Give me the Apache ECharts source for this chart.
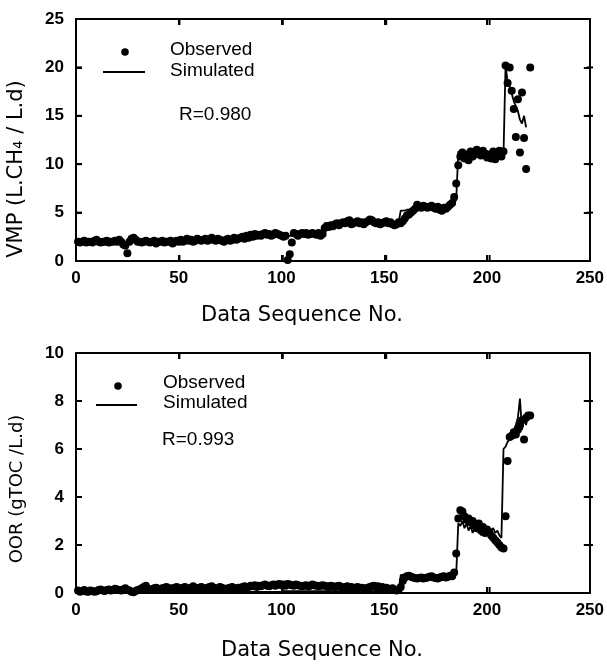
<!DOCTYPE html>
<html>
<head>
<meta charset="utf-8">
<script src="https://cdn.jsdelivr.net/npm/echarts@6/dist/echarts.min.js"></script>
<style>
html,body{margin:0;padding:0;background:#fff;}
#chart{width:607px;height:667px;}
</style>
</head>
<body>
<div id="chart"></div>
<script>
// Axis ticks
var xTicks = [0, 50, 100, 150, 200, 250];
var vmpTicks = [0, 5, 10, 15, 20, 25];
var oorTicks = [0, 2, 4, 6, 8, 10];

// Top panel: VMP, observed (sequence no. 1..221)
var vmpObserved = [
 2.0,1.9,2.0,2.1,1.9,2.0,2.0,1.9,2.1,2.2,
 2.0,1.9,2.0,2.0,2.1,1.9,2.0,2.0,2.1,2.0,
 2.2,2.0,1.7,1.6,0.8,2.0,2.3,2.4,2.2,2.0,
 2.0,1.9,2.0,2.1,2.0,1.9,2.0,2.1,1.8,2.0,
 2.0,2.1,1.9,2.0,2.0,2.1,1.8,2.0,2.1,2.0,
 2.2,2.0,2.1,2.3,2.1,2.2,2.0,2.1,2.3,2.2,
 2.1,2.2,2.3,2.1,2.2,2.4,2.2,2.1,2.3,2.2,
 2.1,2.0,2.2,2.3,2.1,2.2,2.4,2.2,2.3,2.4,
 2.5,2.3,2.6,2.4,2.7,2.5,2.8,2.6,2.7,2.6,
 2.8,2.9,2.7,2.8,2.6,2.7,2.9,2.8,2.7,2.6,
 2.5,2.6,0.1,0.7,1.9,2.9,2.8,2.6,2.8,2.9,
 2.8,2.9,2.7,2.8,2.9,2.8,2.7,2.9,2.6,2.8,
 3.4,3.6,3.5,3.7,3.6,3.8,3.9,3.7,3.9,4.0,
 3.9,4.1,4.2,3.8,3.9,4.0,4.1,3.9,4.0,3.8,
 4.0,4.1,4.3,4.2,4.0,3.9,4.0,3.8,3.9,4.0,
 4.1,3.9,4.0,3.8,3.7,3.8,4.0,3.9,4.1,4.4,
 4.7,4.8,5.0,5.2,5.4,5.8,5.6,5.5,5.7,5.6,
 5.5,5.6,5.7,5.5,5.4,5.6,5.3,5.2,5.5,5.4,
 5.6,5.8,6.0,6.6,8.0,9.9,10.8,11.2,10.6,11.0,
 10.4,11.3,10.8,11.0,11.5,11.2,10.9,11.4,11.1,10.7,
 11.0,10.6,11.3,10.5,11.0,11.4,10.8,11.3,20.2,18.4,
 20.0,17.6,15.7,12.8,16.7,11.2,17.4,12.7,9.5,null,20.0
];

// Top panel: VMP, simulated (sequence no. 1..219)
var vmpSimulated = [
 1.9,1.9,1.9,1.9,1.9,1.9,1.9,1.9,1.9,1.9,
 1.9,1.9,1.9,1.9,1.9,1.9,1.9,1.9,1.9,1.9,
 1.9,1.9,1.9,1.9,1.9,2.0,2.0,2.0,2.0,2.0,
 2.0,2.0,2.0,2.0,2.0,2.0,2.0,2.0,2.0,2.0,
 2.0,2.0,2.0,2.0,2.0,2.0,2.0,2.0,2.0,2.0,
 2.0,2.0,2.0,2.1,2.1,2.1,2.1,2.1,2.1,2.1,
 2.1,2.1,2.1,2.1,2.2,2.2,2.2,2.2,2.2,2.2,
 2.2,2.2,2.2,2.2,2.2,2.2,2.3,2.3,2.3,2.3,
 2.4,2.4,2.4,2.4,2.5,2.5,2.5,2.5,2.6,2.6,
 2.6,2.6,2.6,2.6,2.6,2.6,2.6,2.6,2.6,2.6,
 2.6,2.6,2.6,2.6,2.6,2.6,2.6,2.6,2.6,2.6,
 2.6,2.6,2.6,2.6,2.6,2.6,2.6,2.6,2.6,2.6,
 3.9,3.9,3.9,3.9,3.9,3.9,3.9,3.9,3.9,3.9,
 4.0,4.0,4.0,4.0,4.0,4.0,4.0,4.0,4.0,4.0,
 4.0,4.0,4.0,4.0,4.0,4.0,4.0,4.0,4.0,4.0,
 4.0,4.0,4.0,4.0,4.0,4.0,4.0,5.2,5.2,5.2,
 5.3,5.3,5.4,5.4,5.5,5.5,5.6,5.6,5.6,5.6,
 5.6,5.6,5.6,5.6,5.6,5.6,5.6,5.6,5.6,5.6,
 5.6,5.7,5.8,6.0,6.3,11.3,11.2,11.1,11.0,11.1,
 11.0,11.2,11.1,11.0,11.2,11.1,11.0,11.1,11.2,11.0,
 11.1,11.0,11.2,11.1,11.0,11.2,11.1,11.0,20.2,18.5,
 18.0,17.3,16.5,16.0,15.5,14.6,14.2,15.0,13.8
];

// Bottom panel: OOR, observed (sequence no. 1..221)
var oorObserved = [
 0.10,0.05,0.08,0.12,0.06,0.05,0.10,0.08,0.05,0.07,
 0.12,0.15,0.10,0.08,0.12,0.15,0.10,0.12,0.18,0.15,
 0.12,0.10,0.15,0.20,0.12,0.10,0.05,0.03,0.08,0.12,
 0.15,0.20,0.25,0.30,0.18,0.15,0.12,0.20,0.22,0.18,
 0.15,0.20,0.22,0.25,0.18,0.20,0.15,0.22,0.25,0.20,
 0.18,0.22,0.25,0.20,0.18,0.22,0.28,0.20,0.15,0.22,
 0.25,0.20,0.18,0.22,0.25,0.28,0.22,0.18,0.20,0.25,
 0.22,0.18,0.15,0.20,0.22,0.25,0.20,0.18,0.22,0.20,
 0.25,0.28,0.22,0.25,0.30,0.28,0.32,0.25,0.30,0.28,
 0.32,0.35,0.30,0.28,0.32,0.35,0.30,0.35,0.38,0.32,
 0.35,0.30,0.38,0.35,0.32,0.30,0.35,0.32,0.30,0.28,
 0.30,0.32,0.28,0.30,0.35,0.32,0.30,0.28,0.30,0.32,
 0.30,0.28,0.25,0.30,0.28,0.25,0.28,0.30,0.25,0.22,
 0.25,0.28,0.22,0.25,0.20,0.22,0.25,0.20,0.22,0.18,
 0.20,0.22,0.25,0.28,0.30,0.25,0.28,0.22,0.25,0.20,
 0.22,0.18,0.15,0.20,0.12,0.10,0.15,0.25,0.50,0.65,
 0.70,0.72,0.68,0.65,0.62,0.60,0.62,0.65,0.60,0.62,
 0.65,0.68,0.70,0.65,0.62,0.60,0.65,0.68,0.70,0.65,
 0.68,0.72,0.70,0.85,1.65,3.10,3.45,3.40,3.20,3.05,
 3.10,2.95,3.00,2.80,2.70,2.90,2.60,2.75,2.50,2.65,
 2.55,2.40,2.30,2.20,2.10,2.00,1.90,1.85,3.20,5.50,
 6.50,6.55,6.70,6.60,6.80,7.00,7.20,6.40,7.30,7.40,7.40
];

// Bottom panel: OOR, simulated (sequence no. 1..220)
var oorSimulated = [
 0.05,0.05,0.05,0.05,0.05,0.05,0.05,0.05,0.05,0.05,
 0.05,0.05,0.05,0.05,0.05,0.05,0.05,0.05,0.05,0.05,
 0.05,0.05,0.05,0.05,0.05,0.05,0.05,0.05,0.05,0.05,
 0.05,0.05,0.05,0.05,0.05,0.05,0.05,0.05,0.05,0.05,
 0.05,0.05,0.05,0.05,0.05,0.05,0.05,0.05,0.05,0.05,
 0.05,0.05,0.05,0.05,0.05,0.05,0.05,0.05,0.05,0.05,
 0.05,0.05,0.05,0.05,0.05,0.05,0.05,0.05,0.05,0.05,
 0.05,0.05,0.05,0.05,0.05,0.05,0.05,0.05,0.05,0.05,
 0.05,0.05,0.05,0.05,0.05,0.05,0.05,0.05,0.05,0.05,
 0.05,0.05,0.05,0.05,0.05,0.05,0.05,0.05,0.05,0.05,
 0.08,0.08,0.08,0.08,0.08,0.08,0.08,0.08,0.08,0.08,
 0.08,0.08,0.08,0.08,0.08,0.08,0.08,0.08,0.08,0.08,
 0.08,0.08,0.08,0.08,0.08,0.08,0.08,0.08,0.08,0.08,
 0.08,0.08,0.08,0.08,0.08,0.08,0.08,0.08,0.08,0.08,
 0.08,0.08,0.08,0.08,0.08,0.08,0.08,0.08,0.08,0.08,
 0.08,0.08,0.08,0.08,0.08,0.08,0.08,0.75,0.75,0.72,
 0.70,0.70,0.70,0.68,0.68,0.68,0.68,0.68,0.68,0.68,
 0.68,0.68,0.70,0.70,0.70,0.70,0.70,0.70,0.70,0.70,
 0.70,0.70,0.72,0.75,0.80,2.90,2.80,3.00,2.70,2.90,
 2.60,2.80,2.50,2.70,2.60,2.80,2.40,2.60,2.50,2.70,
 2.40,2.60,2.70,2.50,2.60,2.40,2.30,6.00,6.10,6.30,
 6.40,6.60,6.80,7.00,7.30,8.10,6.80,7.30,7.00,7.50
];

function toPoints(arr) {
  var out = [];
  for (var i = 0; i < arr.length; i++) {
    if (arr[i] !== null) out.push([i + 1, arr[i]]);
  }
  return out;
}

var chart = echarts.init(document.getElementById('chart'), null, {renderer: 'canvas'});

var grids = [
  {left: 76, top: 19, width: 517, height: 242},
  {left: 76, top: 353, width: 517, height: 240}
];

function labelFont(show, margin) {
  return {show: show, margin: margin, fontSize: 17, fontWeight: 'bold', color: '#000', fontFamily: '"Liberation Sans", Arial, sans-serif'};
}
function boxLine() { return {show: true, onZero: false, lineStyle: {color: '#000', width: 2}}; }
function inTick() { return {show: true, inside: true, length: 6, lineStyle: {color: '#000', width: 2}}; }

function xAx(gridIndex, pos, showLabel) {
  return {
    type: 'value', gridIndex: gridIndex, position: pos, min: xTicks[0], max: xTicks[xTicks.length - 1], interval: 50,
    axisLine: boxLine(), axisTick: inTick(), splitLine: {show: false},
    axisLabel: labelFont(showLabel, 9)
  };
}
function yAx(gridIndex, pos, ticks, showLabel) {
  return {
    type: 'value', gridIndex: gridIndex, position: pos, min: ticks[0], max: ticks[ticks.length - 1],
    interval: ticks[1] - ticks[0],
    axisLine: boxLine(), axisTick: inTick(), splitLine: {show: false},
    axisLabel: labelFont(showLabel, 12)
  };
}

var legendFont = '19px "Liberation Sans", Arial, sans-serif';
var titleFont = '21px "DejaVu Sans", sans-serif';

// Inward tick marks on the frame (axis decoration), spaced by the tick arrays over each grid
var TL = 6;
function tickMarks(g, yTicks) {
  var out = [];
  var x0 = g.left, x1 = g.left + g.width, y0 = g.top + g.height, y1 = g.top;
  var xs = xTicks[xTicks.length - 1] - xTicks[0];
  var ys = yTicks[yTicks.length - 1] - yTicks[0];
  for (var i = 1; i < xTicks.length - 1; i++) {
    var x = x0 + (xTicks[i] - xTicks[0]) / xs * g.width;
    out.push({type: 'line', z: 100, shape: {x1: x, y1: y0, x2: x, y2: y0 - TL}, style: {stroke: '#000', lineWidth: 2}});
    out.push({type: 'line', z: 100, shape: {x1: x, y1: y1, x2: x, y2: y1 + TL}, style: {stroke: '#000', lineWidth: 2}});
  }
  for (var j = 1; j < yTicks.length - 1; j++) {
    var y = y0 - (yTicks[j] - yTicks[0]) / ys * g.height;
    out.push({type: 'line', z: 100, shape: {x1: x0, y1: y, x2: x0 + TL, y2: y}, style: {stroke: '#000', lineWidth: 2}});
    out.push({type: 'line', z: 100, shape: {x1: x1, y1: y, x2: x1 - TL, y2: y}, style: {stroke: '#000', lineWidth: 2}});
  }
  return out;
}

var graphics = [
  // top panel legend and R
  {type: 'circle', shape: {cx: 125, cy: 52, r: 3.8}, style: {fill: '#000'}},
  {type: 'text', x: 170, y: 50, style: {text: 'Observed', font: legendFont, fill: '#000', textAlign: 'left', textVerticalAlign: 'middle'}},
  {type: 'line', shape: {x1: 103, y1: 72, x2: 145, y2: 72}, style: {stroke: '#000', lineWidth: 2}},
  {type: 'text', x: 170, y: 71, style: {text: 'Simulated', font: legendFont, fill: '#000', textAlign: 'left', textVerticalAlign: 'middle'}},
  {type: 'text', x: 179, y: 115, style: {text: 'R=0.980', font: legendFont, fill: '#000', textAlign: 'left', textVerticalAlign: 'middle'}},
  // bottom panel legend and R
  {type: 'circle', shape: {cx: 118, cy: 386, r: 3.8}, style: {fill: '#000'}},
  {type: 'text', x: 163, y: 383, style: {text: 'Observed', font: legendFont, fill: '#000', textAlign: 'left', textVerticalAlign: 'middle'}},
  {type: 'line', shape: {x1: 96, y1: 405, x2: 137, y2: 405}, style: {stroke: '#000', lineWidth: 2}},
  {type: 'text', x: 163, y: 403, style: {text: 'Simulated', font: legendFont, fill: '#000', textAlign: 'left', textVerticalAlign: 'middle'}},
  {type: 'text', x: 162, y: 440, style: {text: 'R=0.993', font: legendFont, fill: '#000', textAlign: 'left', textVerticalAlign: 'middle'}},
  // axis titles
  {type: 'text', x: 302, y: 316, style: {text: 'Data Sequence No.', font: titleFont, fill: '#000', textAlign: 'center', textVerticalAlign: 'middle'}},
  {type: 'text', x: 322, y: 651, style: {text: 'Data Sequence No.', font: titleFont, fill: '#000', textAlign: 'center', textVerticalAlign: 'middle'}},
  {type: 'text', x: 17, y: 169, rotation: Math.PI / 2, style: {text: 'VMP (L.CH\u2084 / L.d)', font: titleFont, fill: '#000', textAlign: 'center', textVerticalAlign: 'middle'}},
  {type: 'text', x: 17, y: 489, rotation: Math.PI / 2, style: {text: 'OOR (gTOC /L.d)', font: '18px "DejaVu Sans", sans-serif', fill: '#000', textAlign: 'center', textVerticalAlign: 'middle'}}
].concat(tickMarks(grids[0], vmpTicks)).concat(tickMarks(grids[1], oorTicks));

var option = {
  animation: false,
  backgroundColor: '#fff',
  grid: grids,
  xAxis: [
    xAx(0, 'bottom', true),
    xAx(0, 'top', false),
    xAx(1, 'bottom', true),
    xAx(1, 'top', false)
  ],
  yAxis: [
    yAx(0, 'left', vmpTicks, true),
    yAx(0, 'right', vmpTicks, false),
    yAx(1, 'left', oorTicks, true),
    yAx(1, 'right', oorTicks, false)
  ],
  series: [
    {name: 'Observed', type: 'scatter', xAxisIndex: 0, yAxisIndex: 0, data: toPoints(vmpObserved),
     symbol: 'circle', symbolSize: 8, itemStyle: {color: '#000', opacity: 1}},
    {name: 'Simulated', type: 'line', xAxisIndex: 0, yAxisIndex: 0, data: toPoints(vmpSimulated),
     symbol: 'none', lineStyle: {color: '#000', width: 1.8}},
    {name: 'Observed', type: 'scatter', xAxisIndex: 2, yAxisIndex: 2, data: toPoints(oorObserved),
     symbol: 'circle', symbolSize: 8, itemStyle: {color: '#000', opacity: 1}},
    {name: 'Simulated', type: 'line', xAxisIndex: 2, yAxisIndex: 2, data: toPoints(oorSimulated),
     symbol: 'none', lineStyle: {color: '#000', width: 1.8}}
  ],
  graphic: {elements: graphics}
};
chart.setOption(option);
</script>
</body>
</html>
